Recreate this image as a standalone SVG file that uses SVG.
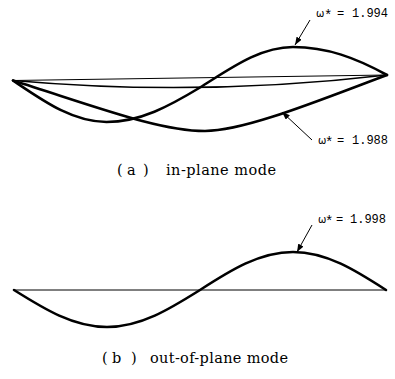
<svg xmlns="http://www.w3.org/2000/svg" width="395" height="379" viewBox="0 0 395 379">
<style>
.bg{fill:#fff}
.mode{fill:none;stroke:#000;stroke-width:2.6;stroke-linecap:round;stroke-linejoin:round}
.base{fill:none;stroke:#000;stroke-width:1}
.mid{fill:none;stroke:#000;stroke-width:1.6}
.lead{fill:none;stroke:#000;stroke-width:1;marker-end:url(#ah)}
.num{font-family:"Liberation Mono","DejaVu Sans Mono",monospace;font-size:12px;fill:#000}
.star{font-family:"Liberation Mono","DejaVu Sans Mono",monospace;font-size:14px;fill:#000}
.om{font-family:"DejaVu Sans","Liberation Sans",sans-serif;font-size:10px;fill:#000}
.cap{font-family:"DejaVu Serif","Liberation Serif",serif;font-size:14.5px;fill:#000}
</style>
<defs>
<marker id="ah" viewBox="0 0 8 6" refX="8" refY="3" markerWidth="8" markerHeight="6" markerUnits="userSpaceOnUse" orient="auto">
<path d="M0,0 L8,3 L0,6 Z" fill="#000"/>
</marker>
</defs>
<rect class="bg" x="0" y="0" width="395" height="379"/>

<g id="in-plane-baseline">
<path class="base" d="M13,80.5 L387,75"/>
<path class="mid" d="M13,80.5 Q200,97 387,75"/>
</g>
<g id="in-plane-mode-1994">
<path class="mode" d="M13,80.5 C43.5,101 72.7,122 106.5,122 C140,122 169.5,106 200,87.5 C230.5,68.5 259.7,47 293,47 C327,47 356,58 387,75"/>
</g>
<g id="in-plane-mode-1988">
<path class="mode" d="M13,80.5 C100,108 160,131 205,131 C245,131 320,100 387,75"/>
</g>

<g id="out-of-plane-baseline">
<path class="base" d="M14,290 L386,290"/>
</g>
<g id="out-of-plane-mode-1998">
<path class="mode" d="M14,290 C44.3,309 73.3,327 107,327 C140.7,327 169.7,309 200,290 C230.3,270.5 259.3,252 293,252 C326.7,252 355.7,270.5 386,290"/>
</g>

<g id="connectors">
<path class="lead" d="M310,20 L295,45"/>
<path class="lead" d="M312,140 L282,112"/>
<path class="lead" d="M312,225 L297,252"/>
</g>

<g id="label-1994">
<text y="17"><tspan class="om" x="316">ω</tspan><tspan class="star" x="324" y="20">*</tspan><tspan class="num" x="337" y="17">=</tspan><tspan class="num" x="352" y="17">1.994</tspan></text>
</g>
<g id="label-1988">
<text y="144"><tspan class="om" x="318">ω</tspan><tspan class="star" x="325" y="147">*</tspan><tspan class="num" x="337" y="144">=</tspan><tspan class="num" x="352" y="144">1.988</tspan></text>
</g>
<g id="label-1998">
<text y="223"><tspan class="om" x="318">ω</tspan><tspan class="star" x="325" y="226">*</tspan><tspan class="num" x="336" y="223">=</tspan><tspan class="num" x="350" y="223">1.998</tspan></text>
</g>

<g id="caption-a">
<text class="cap" y="175"><tspan x="117">(</tspan><tspan x="127">a</tspan><tspan x="143">)</tspan></text>
<text class="cap" x="166" y="175" textLength="110" lengthAdjust="spacing">in-plane mode</text>
</g>
<g id="caption-b">
<text class="cap" y="363"><tspan x="102">(</tspan><tspan x="112">b</tspan><tspan x="131">)</tspan></text>
<text class="cap" x="150" y="363" textLength="138" lengthAdjust="spacing">out-of-plane mode</text>
</g>
</svg>
